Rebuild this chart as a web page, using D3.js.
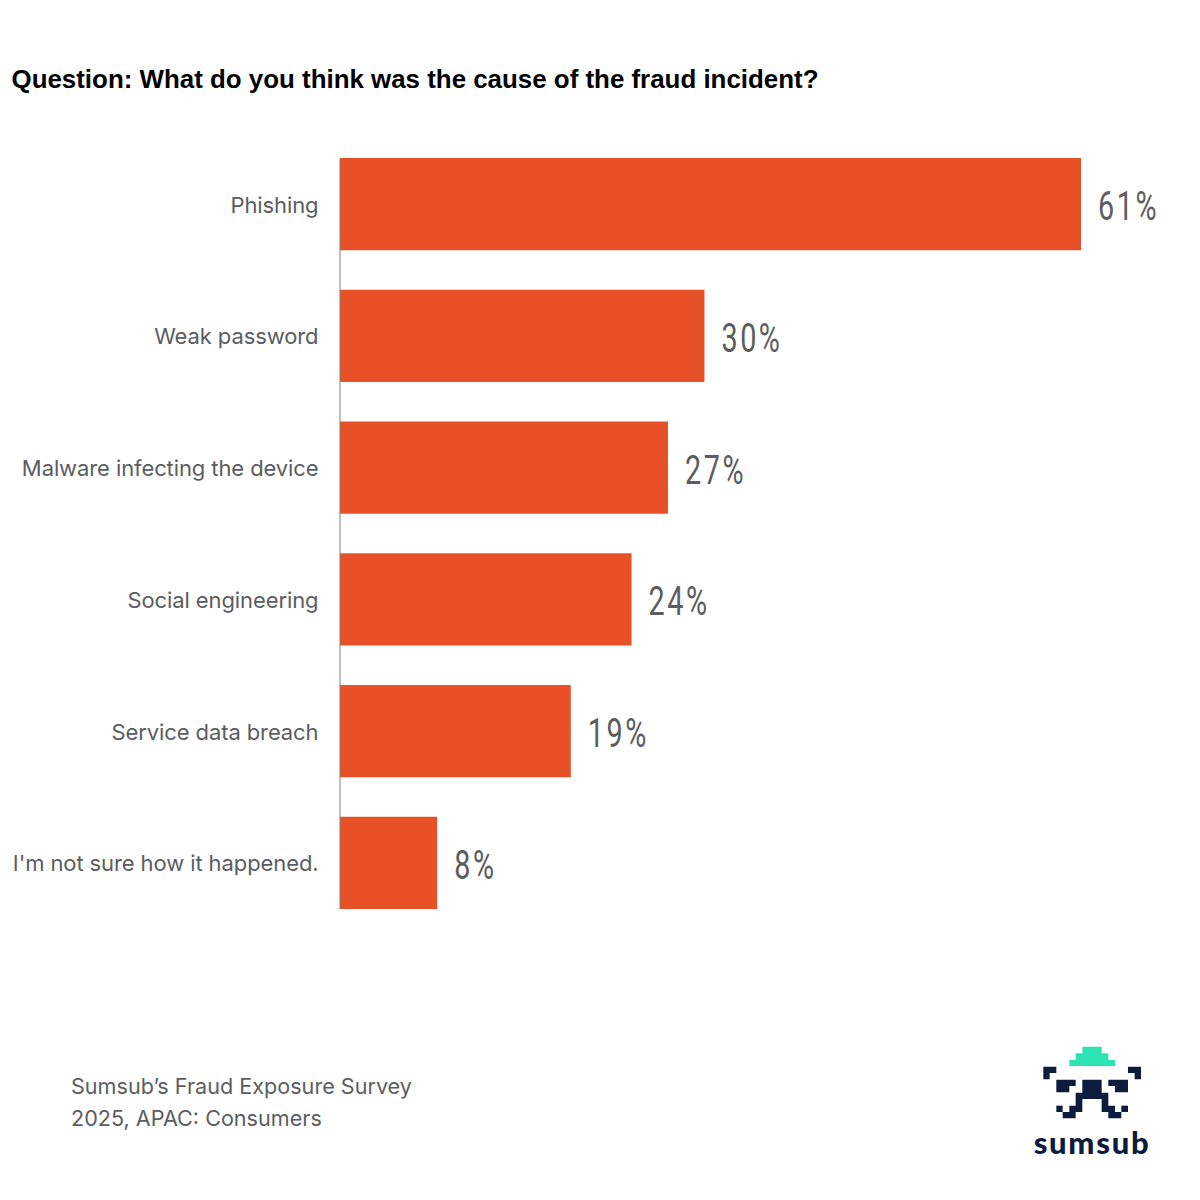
<!DOCTYPE html>
<html><head><meta charset="utf-8">
<script src="https://cdn.jsdelivr.net/npm/d3@7/dist/d3.min.js"></script>
<style>html,body{margin:0;padding:0;background:#fff}svg{display:block}</style>
</head><body><svg id="c" width="1200" height="1200"></svg>
<script>
const categories = ["Phishing","Weak password","Malware infecting the device","Social engineering","Service data breach","I'm not sure how it happened."];
const values = [61,30,27,24,19,8];
const titleText = "Question: What do you think was the cause of the fraud incident?";
const footerLines = ["Sumsub\u2019s Fraud Exposure Survey","2025, APAC: Consumers"];
const brand = "sumsub";

const svg = d3.select("#c");
const x = d3.scaleLinear().domain([0,61]).range([340,1081]);
const y = d3.scaleBand().domain(categories).range([158,909]).paddingInner(0.3).paddingOuter(0);
const grey = "#5b5d61";

svg.append("text").attr("x",11.5).attr("y",87.5).attr("font-family","Liberation Sans").attr("font-weight",700)
  .attr("font-size",25.9).attr("fill","#000").text(titleText);

svg.selectAll("rect.bar").data(values).join("rect").attr("class","bar")
  .attr("x",x(0)).attr("y",(d,i)=>y(categories[i])).attr("width",d=>x(d)-x(0)).attr("height",y.bandwidth()).attr("fill","#e85127");

const ax = svg.append("g").attr("transform","translate(339.5,0)").call(d3.axisLeft(y).tickSize(0).tickPadding(21));
ax.select(".domain").attr("stroke","#7f7f7f").attr("stroke-width",1);
ax.selectAll("text").attr("font-family","Inter").attr("font-size",22).attr("letter-spacing",-0.1).attr("dy","0.39em").attr("fill",grey);

svg.selectAll("text.val").data(values).join("text").attr("class","val")
  .attr("transform",(d,i)=>`translate(${x(d)+17},${y(categories[i])+y.bandwidth()/2+16}) scale(0.72,1)`)
  .attr("font-family","Roboto").attr("font-size",40).attr("letter-spacing",3.5).attr("fill",grey)
  .text(d=>d+"%");

svg.selectAll("text.foot").data(footerLines).join("text").attr("class","foot")
  .attr("x",71).attr("y",(d,i)=>1094+i*32).attr("font-family","Inter").attr("font-size",21.6).attr("fill",grey).text(d=>d);

// logo
const lg = svg.append("g").attr("transform","translate(1000,1030) scale(0.3333)");
const navy="#0d1b3e";
const shapes = [
 {f:"#2de3b2",p:"M247 50H305V70H325V90H345V108H208V90H227V70H247Z"},
 {f:navy,p:"M130 110H169V129H149V148H130Z"},
 {f:navy,p:"M384 110H423V148H404V129H384Z"},
 {f:navy,p:"M169 149H227V168H208V187H169Z"},
 {f:navy,p:"M325 149H384V187H345V168H325Z"},
 {f:navy,p:"M247 149H305V188H325V227H345V246H364V265H325V246H305V207H247V246H227V265H188V246H208V227H227V188H247Z"},
 {f:navy,p:"M169 227H188V246H169Z"},
 {f:navy,p:"M364 227H384V246H364Z"}
];
lg.selectAll("path").data(shapes).join("path").attr("d",d=>d.p).attr("fill",d=>d.f);
svg.append("text").attr("x",1092).attr("y",1153.5).attr("text-anchor","middle").attr("font-family","Lato").attr("font-weight",900)
  .attr("font-size",31).attr("letter-spacing",1.7).attr("fill",navy).text(brand);
</script></body></html>
